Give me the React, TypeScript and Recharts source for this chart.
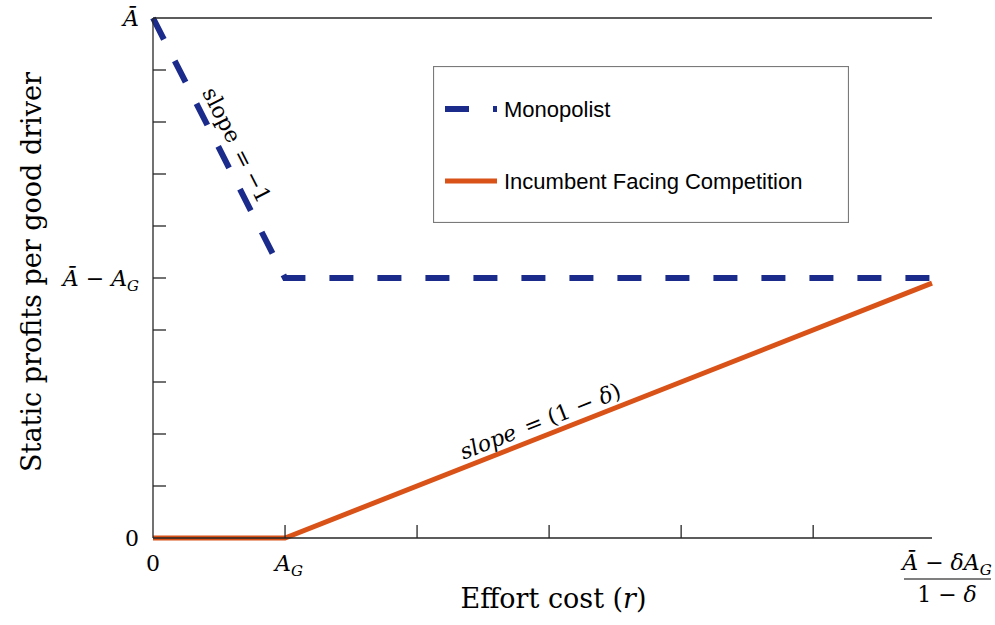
import React from 'react';
import { LineChart, Line, XAxis, YAxis, Legend, ReferenceDot } from 'recharts';

// effort cost r (A_G = 5), profits in units where Ā = 10
const effortCost = [0, 5, 29.5];
const monopolist = [10, 5, 5];
const incumbent = [0, 0, 4.9];

const xTicks = [0, 5, 10, 15, 20, 25, 29.5];
const xTickLabels = ['0', 'A_G', '', '', '', '', 'frac'];
const topTicks = [5, 10, 15, 20, 25];
const yTicks = [0, 1, 2, 3, 4, 5, 6, 7, 8, 9, 10];
const yTickLabels = ['0', '', '', '', '', 'Abar-A_G', '', '', '', '', 'Abar'];
const legendOrder = ['Monopolist', 'Incumbent Facing Competition'];

const data = effortCost.map((r, i) => ({
  r,
  monopolist: monopolist[i],
  incumbent: incumbent[i],
}));

const BLUE = '#1a2b8b';
const ORANGE = '#d95319';
const AXIS = '#262626';
const SERIF = '"DejaVu Serif", serif';
const SANS = '"Liberation Sans", Arial, sans-serif';

const sub = (s: string) => (
  <tspan fontStyle="italic" fontSize={15} dy={5}>
    {s}
  </tspan>
);

function mathLabel(kind: string) {
  if (kind === 'A_G')
    return (
      <>
        <tspan fontStyle="italic">A</tspan>
        {sub('G')}
      </>
    );
  if (kind === 'Abar') return <tspan fontStyle="italic">Ā</tspan>;
  if (kind === 'Abar-A_G')
    return (
      <>
        <tspan fontStyle="italic">Ā</tspan>
        <tspan> − </tspan>
        <tspan fontStyle="italic">A</tspan>
        {sub('G')}
      </>
    );
  return kind;
}

const BottomTick = (props: any) => {
  const { x, y, payload } = props;
  const i = xTicks.indexOf(payload.value);
  const label = xTickLabels[i];
  const inner = payload.value > 0 && payload.value < 29.5;
  return (
    <g>
      {inner && <line x1={x} x2={x} y1={y} y2={y - 13} stroke={AXIS} strokeWidth={1.3} />}
      {label === 'frac' ? (
        <g fontFamily={SERIF} fontSize={22} fill="#000">
          <text x={x + 15} y={y + 32} textAnchor="middle">
            <tspan fontStyle="italic">Ā</tspan>
            <tspan> − </tspan>
            <tspan fontStyle="italic">δA</tspan>
            {sub('G')}
          </text>
          <line x1={x - 28} x2={x + 59} y1={y + 41} y2={y + 41} stroke="#000" strokeWidth={1.2} />
          <text x={x + 15} y={y + 64} textAnchor="middle">
            1 − <tspan fontStyle="italic">δ</tspan>
          </text>
        </g>
      ) : label ? (
        <text x={x + (label === 'A_G' ? 4 : 0)} y={y + 33} textAnchor="middle" fontFamily={SERIF} fontSize={22} fill="#000">
          {mathLabel(label)}
        </text>
      ) : null}
    </g>
  );
};

const TopTick = (props: any) => {
  const { x, y } = props;
  return <line x1={x} x2={x} y1={y} y2={y + 13} stroke={AXIS} strokeWidth={1.3} />;
};

const LeftTick = (props: any) => {
  const { x, y, payload } = props;
  const i = yTicks.indexOf(payload.value);
  const label = yTickLabels[i];
  const inner = payload.value > 0 && payload.value < 10;
  return (
    <g>
      {inner && <line x1={x} x2={x + 13} y1={y} y2={y} stroke={AXIS} strokeWidth={1.3} />}
      {label && (
        <text x={x - 14} y={y + 8} textAnchor="end" fontFamily={SERIF} fontSize={22} fill="#000">
          {mathLabel(label)}
        </text>
      )}
    </g>
  );
};

const XLabel = ({ viewBox }: any) => (
  <text
    x={viewBox.x + viewBox.width / 2 + 11}
    y={viewBox.y + 70}
    textAnchor="middle"
    fontFamily={SERIF}
    fontSize={27}
    fill="#000"
  >
    Effort cost (<tspan fontStyle="italic">r</tspan>)
  </text>
);

const YLabel = ({ viewBox }: any) => {
  const cx = viewBox.x + 31;
  const cy = viewBox.y + viewBox.height / 2 - 6;
  return (
    <text
      x={cx}
      y={cy}
      textAnchor="middle"
      dominantBaseline="central"
      transform={`rotate(-90 ${cx} ${cy})`}
      fontFamily={SERIF}
      fontSize={27}
      fill="#000"
    >
      Static profits per good driver
    </text>
  );
};

const SlopeMonopolist = ({ viewBox }: any) => {
  const cx = viewBox.x + viewBox.width / 2;
  const cy = viewBox.y + viewBox.height / 2;
  return (
    <text
      x={cx}
      y={cy}
      textAnchor="middle"
      dominantBaseline="central"
      transform={`rotate(63 ${cx} ${cy})`}
      fontFamily={SERIF}
      fontSize={22}
      fill="#000"
    >
      slope<tspan dx={10}>=</tspan>
      <tspan dx={6}>−1</tspan>
    </text>
  );
};

const SlopeIncumbent = ({ viewBox }: any) => {
  const cx = viewBox.x + viewBox.width / 2;
  const cy = viewBox.y + viewBox.height / 2;
  return (
    <text
      x={cx}
      y={cy}
      textAnchor="middle"
      dominantBaseline="central"
      transform={`rotate(-21.5 ${cx} ${cy})`}
      fontFamily={SERIF}
      fontSize={22}
      fill="#000"
    >
      <tspan fontStyle="italic">slope</tspan>
      <tspan dx={10}>= (1 − </tspan>
      <tspan fontStyle="italic">δ</tspan>)
    </text>
  );
};

const renderLegend = (props: any) => {
  const items = props.payload || [];
  return (
    <svg width={416} height={157} style={{ display: 'block' }}>
      <rect x={0.5} y={0.5} width={415} height={156} fill="#fff" stroke="#7a7a7a" strokeWidth={1.2} />
      {legendOrder.map((name, i) => {
        const it = items.find((p: any) => p.value === name);
        if (!it) return null;
        const yy = 43 + i * 72;
        const dashed = name === 'Monopolist';
        return (
          <g key={name}>
            <line
              x1={12}
              x2={64}
              y1={yy}
              y2={yy}
              stroke={it.color}
              strokeWidth={dashed ? 6 : 5}
              strokeDasharray={dashed ? '24 24' : undefined}
            />
            <text x={71} y={yy} dominantBaseline="central" fontFamily={SANS} fontSize={22} fill="#000">
              {name}
            </text>
          </g>
        );
      })}
    </svg>
  );
};

export default function App() {
  return (
    <div style={{ position: 'absolute', left: 0, top: 0, width: 995, height: 625, background: '#fff' }}>
      <LineChart width={995} height={625} data={data} margin={{ top: 8, right: 63, bottom: 0, left: 0 }}>
        <XAxis
          dataKey="r"
          type="number"
          domain={[0, 29.5]}
          ticks={xTicks}
          interval={0}
          tick={BottomTick}
          tickLine={false}
          tickSize={0}
          tickMargin={0}
          height={87}
          axisLine={{ stroke: AXIS, strokeWidth: 1.3 }}
          label={{ content: XLabel }}
        />
        <XAxis
          xAxisId="top"
          orientation="top"
          type="number"
          domain={[0, 29.5]}
          allowDataOverflow
          ticks={topTicks}
          interval={0}
          tick={TopTick}
          tickLine={false}
          tickSize={0}
          tickMargin={0}
          height={10}
          axisLine={{ stroke: AXIS, strokeWidth: 1.3 }}
        />
        <YAxis
          type="number"
          domain={[0, 10]}
          ticks={yTicks}
          interval={0}
          tick={LeftTick}
          tickLine={false}
          tickSize={0}
          tickMargin={0}
          width={153}
          axisLine={{ stroke: AXIS, strokeWidth: 1.3 }}
          label={{ content: YLabel }}
        />
        <Legend
          layout="vertical"
          align="center"
          verticalAlign="middle"
          content={renderLegend}
          wrapperStyle={{ left: 433, top: 66, width: 416, height: 157 }}
        />
        <Line
          type="linear"
          dataKey="monopolist"
          name="Monopolist"
          stroke={BLUE}
          strokeWidth={6}
          strokeDasharray="24 24"
          dot={false}
          activeDot={false}
          isAnimationActive={false}
        />
        <Line
          type="linear"
          dataKey="incumbent"
          name="Incumbent Facing Competition"
          stroke={ORANGE}
          strokeWidth={5}
          dot={false}
          activeDot={false}
          isAnimationActive={false}
        />
        <ReferenceDot x={3.18} y={7.56} r={1} fill="none" stroke="none" label={{ content: SlopeMonopolist }} />
        <ReferenceDot x={14.66} y={2.25} r={1} fill="none" stroke="none" label={{ content: SlopeIncumbent }} />
      </LineChart>
    </div>
  );
}
